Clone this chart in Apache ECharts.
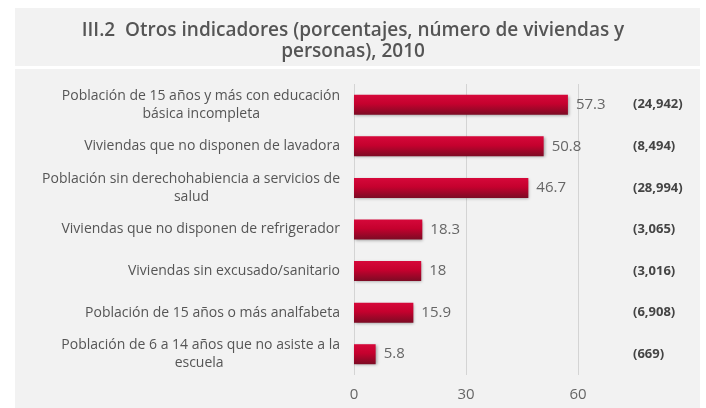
<!DOCTYPE html>
<html>
<head>
<meta charset="utf-8">
<script src="https://cdn.jsdelivr.net/npm/echarts@6/dist/echarts.min.js"></script>
<style>html,body{margin:0;padding:0;background:#fff;}#c{width:706px;height:408px;}</style>
</head>
<body>
<div id="c"></div>
<script>
const titleText = 'III.2  Otros indicadores (porcentajes, número de viviendas y\npersonas), 2010';
const categories = [
  'Población de 15 años y más con educación básica incompleta',
  'Viviendas que no disponen de lavadora',
  'Población sin derechohabiencia a servicios de salud',
  'Viviendas que no disponen de refrigerador',
  'Viviendas sin excusado/sanitario',
  'Población de 15 años o más analfabeta',
  'Población de 6 a 14 años que no asiste a la escuela'
];
const percentValues = [57.3, 50.8, 46.7, 18.3, 18, 15.9, 5.8];
const countLabels = ['(24,942)', '(8,494)', '(28,994)', '(3,065)', '(3,016)', '(6,908)', '(669)'];
const xTicks = [0, 30, 60];

const FONT = '"Open Sans", "Noto Sans", sans-serif';
const LABEL_SIZE = 14;
const WRAP = 318;

const ctx = document.createElement('canvas').getContext('2d');
ctx.font = LABEL_SIZE + 'px ' + FONT;
const nbspW = ctx.measureText('\u00a0').width || 3.6;
function wrapLines(t) {
  const words = t.split(' ');
  const lines = [];
  let cur = '';
  for (const w of words) {
    const test = cur ? cur + ' ' + w : w;
    if (ctx.measureText(test).width > WRAP && cur) { lines.push(cur); cur = w; }
    else cur = test;
  }
  if (cur) lines.push(cur);
  return lines;
}
// right-aligned block whose shorter lines are centred under the longest one
const labelMap = {};
categories.forEach(c => {
  const lines = wrapLines(c);
  const widths = lines.map(l => ctx.measureText(l).width);
  const maxW = Math.max(...widths);
  labelMap[c] = lines.map((l, i) => {
    const n = Math.round(((maxW - widths[i]) / 2) / nbspW);
    return l + '\u00a0'.repeat(n);
  }).join('\n');
});

const chart = echarts.init(document.getElementById('c'));
chart.setOption({
  backgroundColor: '#ffffff',
  animation: false,
  graphic: [
    { type: 'rect', z: -10, shape: { x: 15, y: 8, width: 685, height: 58 }, style: { fill: '#f2f2f2' } },
    { type: 'rect', z: -10, shape: { x: 15, y: 69, width: 685, height: 339 }, style: { fill: '#f2f2f2' } }
  ],
  title: {
    text: titleText,
    left: 'center',
    top: 15,
    textStyle: { fontFamily: FONT, fontSize: 19, fontWeight: 600, color: '#555', lineHeight: 21 }
  },
  grid: { left: 354, right: 128, top: 84, bottom: 33 },
  xAxis: {
    type: 'value',
    min: xTicks[0],
    max: xTicks[xTicks.length - 1],
    interval: 30,
    axisLine: { show: false },
    axisTick: { show: false },
    axisLabel: { color: '#666', fontSize: 15, fontFamily: FONT, margin: 12 },
    splitLine: { lineStyle: { color: '#d4d4d4', width: 1 } }
  },
  yAxis: [
    {
      type: 'category',
      data: categories,
      inverse: true,
      axisLine: { show: false },
      axisTick: { show: false },
      axisLabel: {
        color: '#555', fontSize: LABEL_SIZE, fontFamily: FONT, margin: 14, lineHeight: 18,
        formatter: v => labelMap[v]
      }
    },
    {
      type: 'category',
      data: countLabels,
      inverse: true,
      position: 'right',
      axisLine: { show: false },
      axisTick: { show: false },
      axisLabel: { color: '#444', fontSize: 13, fontWeight: 'bold', fontFamily: FONT, margin: 55, align: 'left' }
    }
  ],
  series: [{
    type: 'bar',
    data: percentValues,
    barWidth: 20,
    itemStyle: {
      color: new echarts.graphic.LinearGradient(0, 0, 0, 1, [
        { offset: 0, color: '#d6083a' },
        { offset: 0.45, color: '#c5012e' },
        { offset: 1, color: '#7c0b24' }
      ]),
      shadowColor: 'rgba(0,0,0,0.35)',
      shadowBlur: 3,
      shadowOffsetX: 1,
      shadowOffsetY: 1
    },
    label: { show: true, position: 'right', distance: 8, color: '#666', fontSize: 15, fontFamily: FONT }
  }]
});
</script>
</body>
</html>
